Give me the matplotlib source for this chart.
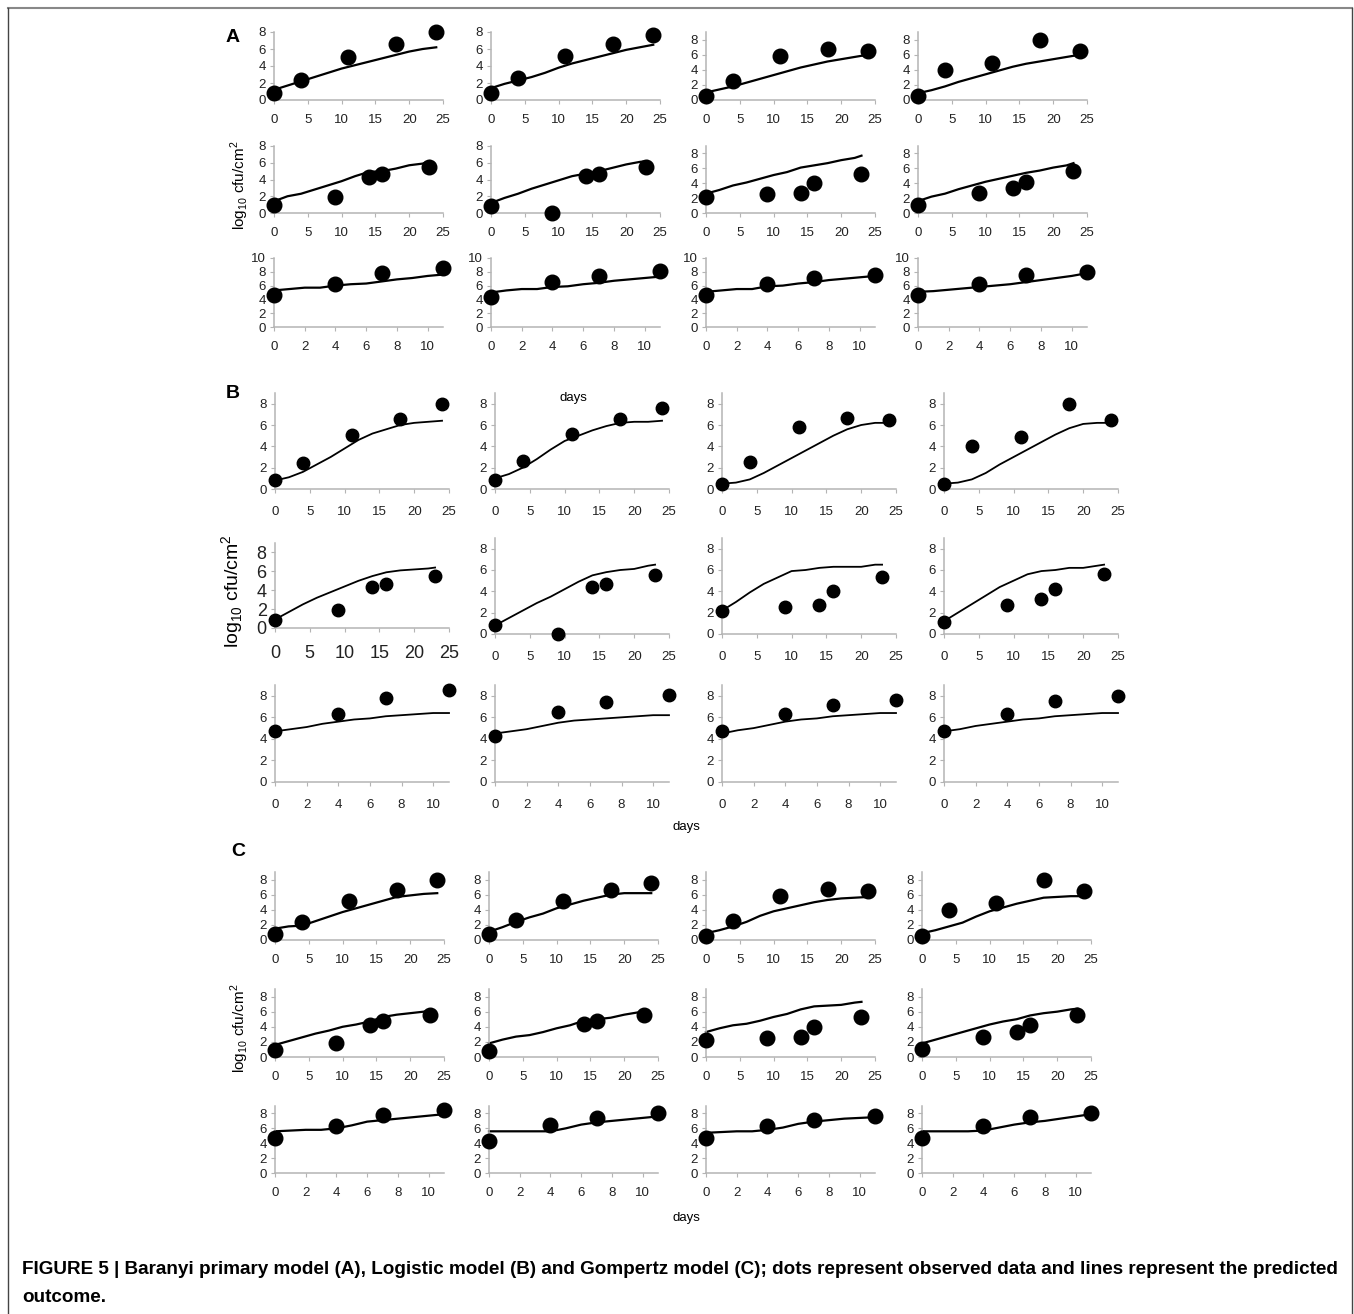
import numpy as np
import matplotlib
matplotlib.use("Agg")
import matplotlib.pyplot as plt
from matplotlib.lines import Line2D

plt.rcParams['font.family'] = ['Liberation Sans', 'DejaVu Sans']
plt.rcParams['mathtext.fontset'] = 'custom'
plt.rcParams['mathtext.rm'] = 'Liberation Sans'

W, H = 1354, 1314

# observed sampling days (rows: three experiment series)
t_row1_obs = [0, 4, 11, 18, 24]
t_row2_obs = [0, 9, 14, 16, 23]
t_row3_obs = [0, 4, 7, 11]

obs_row1 = [[0.8, 2.4, 5.1, 6.6, 8.0],
            [0.8, 2.6, 5.2, 6.6, 7.6],
            [0.5, 2.5, 5.8, 6.7, 6.5],
            [0.5, 4.0, 4.9, 8.0, 6.5]]
obs_row2 = [[0.9, 1.9, 4.3, 4.7, 5.5],
            [0.8, 0.0, 4.4, 4.7, 5.5],
            [2.2, 2.5, 2.7, 4.0, 5.3],
            [1.1, 2.7, 3.3, 4.2, 5.6]]
obs_row3 = [[4.7, 6.3, 7.8, 8.5],
            [4.3, 6.5, 7.4, 8.1],
            [4.7, 6.3, 7.1, 7.6],
            [4.7, 6.3, 7.5, 8.0]]

# predicted curves
t_row1_fit = [0, 2, 4, 6, 8, 10, 12, 14, 16, 18, 20, 22, 24]
t_row2_fit = [0, 2, 4, 6, 8, 10, 12, 14, 16, 18, 20, 22, 23]
t_row3_fit = [0, 1, 2, 3, 4, 5, 6, 7, 8, 9, 10, 11]

baranyi_row1 = [[1.2, 1.7, 2.2, 2.7, 3.2, 3.7, 4.1, 4.5, 4.9, 5.3, 5.7, 6.0, 6.2],
                [1.4, 1.9, 2.3, 2.7, 3.2, 3.8, 4.3, 4.7, 5.1, 5.5, 5.9, 6.2, 6.5],
                [1.0, 1.4, 1.8, 2.3, 2.8, 3.3, 3.8, 4.3, 4.7, 5.1, 5.4, 5.7, 6.0],
                [0.9, 1.3, 1.8, 2.4, 2.9, 3.4, 3.9, 4.4, 4.8, 5.1, 5.4, 5.7, 6.0]]
baranyi_row2 = [[1.4, 2.0, 2.3, 2.8, 3.3, 3.8, 4.4, 4.9, 5.0, 5.3, 5.7, 5.9, 6.2],
                [1.2, 1.8, 2.3, 2.9, 3.4, 3.9, 4.4, 4.7, 5.0, 5.4, 5.8, 6.1, 6.2],
                [2.6, 3.1, 3.7, 4.1, 4.6, 5.1, 5.5, 6.1, 6.4, 6.7, 7.1, 7.4, 7.7],
                [1.6, 2.2, 2.6, 3.2, 3.7, 4.2, 4.6, 5.0, 5.4, 5.7, 6.1, 6.4, 6.7]]
baranyi_row3 = [[5.3, 5.5, 5.7, 5.7, 6.0, 6.2, 6.3, 6.6, 6.9, 7.1, 7.4, 7.6],
                [5.0, 5.3, 5.5, 5.5, 5.8, 5.9, 6.2, 6.4, 6.7, 6.9, 7.1, 7.3],
                [5.1, 5.3, 5.5, 5.5, 5.9, 6.0, 6.3, 6.5, 6.8, 7.0, 7.2, 7.4],
                [5.1, 5.2, 5.4, 5.6, 5.8, 6.0, 6.2, 6.5, 6.8, 7.1, 7.4, 7.8]]

logistic_row1 = [[0.8, 1.1, 1.6, 2.3, 3.0, 3.8, 4.6, 5.2, 5.6, 6.0, 6.2, 6.3, 6.4],
                 [1.0, 1.4, 2.0, 2.8, 3.7, 4.5, 5.0, 5.5, 5.9, 6.2, 6.3, 6.3, 6.4],
                 [0.5, 0.6, 0.9, 1.5, 2.2, 2.9, 3.6, 4.3, 5.0, 5.6, 6.0, 6.2, 6.2],
                 [0.5, 0.6, 0.9, 1.5, 2.3, 3.0, 3.7, 4.4, 5.1, 5.7, 6.1, 6.2, 6.2]]
logistic_row2 = [[0.9, 1.7, 2.5, 3.2, 3.8, 4.4, 5.0, 5.5, 5.9, 6.1, 6.2, 6.3, 6.4],
                 [0.8, 1.5, 2.2, 2.9, 3.5, 4.2, 4.9, 5.5, 5.8, 6.0, 6.1, 6.4, 6.5],
                 [2.2, 3.0, 3.9, 4.7, 5.3, 5.9, 6.0, 6.2, 6.3, 6.3, 6.3, 6.5, 6.5],
                 [1.2, 2.0, 2.8, 3.6, 4.4, 5.0, 5.6, 5.9, 6.0, 6.2, 6.2, 6.4, 6.5]]
logistic_row3 = [[4.7, 4.9, 5.1, 5.4, 5.6, 5.8, 5.9, 6.1, 6.2, 6.3, 6.4, 6.4],
                 [4.5, 4.7, 4.9, 5.2, 5.5, 5.7, 5.8, 5.9, 6.0, 6.1, 6.2, 6.2],
                 [4.5, 4.8, 5.0, 5.3, 5.6, 5.8, 5.9, 6.1, 6.2, 6.3, 6.4, 6.4],
                 [4.7, 4.9, 5.2, 5.4, 5.6, 5.8, 5.9, 6.1, 6.2, 6.3, 6.4, 6.4]]

gompertz_row1 = [[1.5, 1.8, 1.9, 2.5, 3.1, 3.7, 4.2, 4.7, 5.2, 5.7, 5.9, 6.1, 6.2],
                 [1.1, 1.7, 2.4, 3.0, 3.5, 4.2, 4.7, 5.2, 5.6, 6.0, 6.2, 6.2, 6.2],
                 [0.9, 1.3, 1.8, 2.4, 3.2, 3.8, 4.2, 4.6, 5.0, 5.3, 5.5, 5.6, 5.7],
                 [0.9, 1.3, 1.8, 2.3, 3.1, 3.8, 4.3, 4.8, 5.2, 5.6, 5.7, 5.8, 5.8]]
gompertz_row2 = [[1.6, 2.1, 2.6, 3.1, 3.5, 4.0, 4.3, 4.7, 5.3, 5.6, 5.8, 6.0, 6.2],
                 [1.8, 2.3, 2.7, 2.9, 3.3, 3.8, 4.2, 4.8, 5.0, 5.2, 5.6, 5.9, 6.0],
                 [3.3, 3.8, 4.2, 4.4, 4.8, 5.3, 5.7, 6.3, 6.7, 6.8, 6.9, 7.2, 7.3],
                 [1.8, 2.3, 2.8, 3.3, 3.8, 4.3, 4.7, 5.0, 5.5, 5.8, 6.0, 6.3, 6.4]]
gompertz_row3 = [[5.6, 5.7, 5.8, 5.8, 6.0, 6.4, 6.9, 7.1, 7.3, 7.5, 7.7, 7.9],
                 [5.6, 5.6, 5.6, 5.6, 5.6, 6.0, 6.5, 6.8, 7.0, 7.2, 7.4, 7.6],
                 [5.4, 5.5, 5.6, 5.6, 5.8, 6.1, 6.6, 6.9, 7.1, 7.3, 7.4, 7.5],
                 [5.6, 5.6, 5.6, 5.6, 5.7, 6.1, 6.5, 6.8, 7.0, 7.3, 7.6, 7.9]]

models = ['A', 'B', 'C']
fits = {'A': [baranyi_row1, baranyi_row2, baranyi_row3],
        'B': [logistic_row1, logistic_row2, logistic_row3],
        'C': [gompertz_row1, gompertz_row2, gompertz_row3]}
obs = [obs_row1, obs_row2, obs_row3]
t_obs = [t_row1_obs, t_row2_obs, t_row3_obs]
t_fit = [t_row1_fit, t_row2_fit, t_row3_fit]

# layout in pixels: column origins, width, row (bottom, top) and y max
col_x = {'A': [274, 491, 706, 918], 'B': [275, 495, 722, 944], 'C': [275, 489, 706, 922]}
col_w = {'A': 169, 'B': 174, 'C': 169}
row_y = {'A': [(100, 32), (213, 146), (327, 258)],
         'B': [(489, 393), (634, 538), (782, 685)],
         'C': [(940, 872), (1057, 989), (1173, 1106)]}
ymax = {'A': [[8, 8, 9, 9], [8, 8, 9, 9], [10, 10, 10, 10]],
        'B': [[9] * 4, [9] * 4, [9] * 4],
        'C': [[9] * 4, [9] * 4, [9] * 4]}
hidden = {('C', 1, 1, 1)}  # point not drawn in the reference

fig = plt.figure(figsize=(W / 100, H / 100), dpi=100)
fig.patch.set_facecolor('white')

for m in models:
    ms = 10.5 if m != 'B' else 9
    for r in range(3):
        bot, top = row_y[m][r]
        for c in range(4):
            x0 = col_x[m][c]
            w = col_w[m]
            if m == 'B' and r == 1 and c == 0:
                bot, top = 628, 543
            elif m == 'B' and r == 1:
                bot, top = 634, 538
            ax = fig.add_axes([x0 / W, 1 - bot / H, w / W, (bot - top) / H])
            ax.plot(t_fit[r], fits[m][r][c], color='black', lw=1.6 if m != 'B' else 1.3,
                    clip_on=False, zorder=2)
            xs = [t for i, t in enumerate(t_obs[r]) if (m, r, c, i) not in hidden]
            ys = [v for i, v in enumerate(obs[r][c]) if (m, r, c, i) not in hidden]
            ax.plot(xs, ys, 'o', color='black', ms=ms, clip_on=False, zorder=3)
            if r < 2:
                ax.set_xlim(0, 25)
                ax.set_xticks(range(0, 26, 5))
            else:
                ax.set_xlim(0, 11)
                ax.set_xticks(range(0, 11, 2))
            ax.set_ylim(0, ymax[m][r][c])
            ax.set_yticks(range(0, ymax[m][r][c] + 1, 2))
            for s in ['top', 'right']:
                ax.spines[s].set_visible(False)
            for s in ['left', 'bottom']:
                ax.spines[s].set_color('#b4b4b4')
                ax.spines[s].set_linewidth(1.1)
            fs = 9.5
            if m == 'B' and r == 1 and c == 0:
                fs = 13
            xpad = 9 if m == 'B' else 7
            ax.tick_params(axis='both', direction='out', length=3, width=0.8,
                           color='#b4b4b4', labelsize=fs, labelcolor='#222222')
            ax.tick_params(axis='x', pad=xpad)
            ax.tick_params(axis='y', pad=3)
            ax.set_facecolor('none')

# y labels, x labels and panel letters
ylab = r'log$_{10}$ cfu/cm$^2$'
fig.text(240 / W, 1 - 185 / H, ylab, rotation=90, ha='center', va='center', fontsize=11)
fig.text(233 / W, 1 - 591 / H, ylab, rotation=90, ha='center', va='center', fontsize=14)
fig.text(240 / W, 1 - 1028 / H, ylab, rotation=90, ha='center', va='center', fontsize=11)
fig.text(573 / W, 1 - 398 / H, 'days', ha='center', va='center', fontsize=9.5)
fig.text(686 / W, 1 - 827 / H, 'days', ha='center', va='center', fontsize=9.5)
fig.text(686 / W, 1 - 1218 / H, 'days', ha='center', va='center', fontsize=9.5)
fig.text(233 / W, 1 - 38 / H, 'A', ha='center', va='center', fontsize=14, fontweight='bold')
fig.text(233 / W, 1 - 393 / H, 'B', ha='center', va='center', fontsize=14, fontweight='bold')
fig.text(238 / W, 1 - 851 / H, 'C', ha='center', va='center', fontsize=14, fontweight='bold')

# caption
fig.text(22 / W, 1 - 1270 / H,
         'FIGURE 5 | Baranyi primary model (A), Logistic model (B) and Gompertz model (C); '
         'dots represent observed data and lines represent the predicted',
         ha='left', va='center', fontsize=13.6, fontweight='bold')
fig.text(22 / W, 1 - 1297 / H, 'outcome.', ha='left', va='center', fontsize=13.6,
         fontweight='bold')

# frame around figure
fig.add_artist(Line2D([8 / W, 1352 / W], [1 - 7.5 / H, 1 - 7.5 / H], color='#888888', lw=1.5))
fig.add_artist(Line2D([8 / W, 8 / W], [1 - 7.5 / H, 0], color='#444444', lw=1.0))
fig.add_artist(Line2D([1352 / W, 1352 / W], [1 - 7.5 / H, 0], color='#444444', lw=1.0))

fig.savefig('out.png', dpi=100)
